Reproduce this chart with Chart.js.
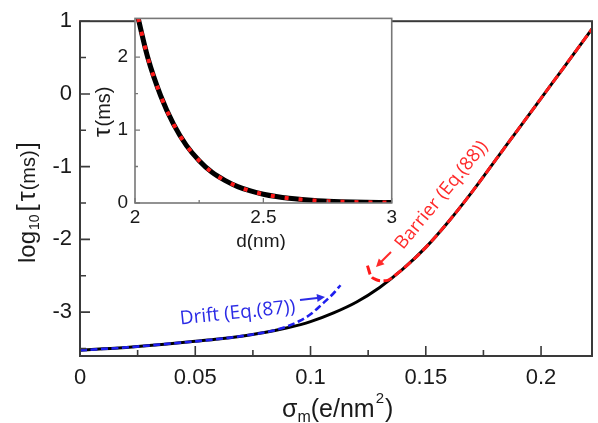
<!DOCTYPE html>
<html><head><meta charset="utf-8">
<script src="https://cdn.jsdelivr.net/npm/chart.js@4.4.1/dist/chart.umd.min.js"></script>
<style>
html,body{margin:0;padding:0;background:#fff;}
#wrap{position:relative;width:598px;height:423px;overflow:hidden;background:#fff;}
#main{position:absolute;left:0;top:0;}
#inset{position:absolute;left:95px;top:0;}
</style></head><body>
<div id="wrap"><canvas id="main" width="598" height="423"></canvas><canvas id="inset" width="305" height="250"></canvas></div>
<script>
// ---------- main panel data ----------
const sigmaFull   = [0,0.01,0.02,0.03,0.04,0.05,0.06,0.07,0.08,0.09,0.10,0.11,0.12,0.13,0.14,0.15,0.16,0.17,0.18,0.19,0.20,0.21,0.2225];
const logTauFull  = [-3.525,-3.505,-3.485,-3.46,-3.43,-3.40,-3.37,-3.33,-3.28,-3.215,-3.13,-3.01,-2.86,-2.66,-2.41,-2.11,-1.75,-1.35,-0.92,-0.49,-0.06,0.37,0.91];
const sigmaDrift  = [0,0.02,0.04,0.06,0.07,0.08,0.085,0.09,0.095,0.10,0.105,0.11,0.113];
const logTauDrift = [-3.525,-3.485,-3.43,-3.37,-3.33,-3.28,-3.245,-3.195,-3.125,-3.03,-2.89,-2.74,-2.63];
const sigmaBarrier  = [0.1247,0.126,0.1282,0.1312,0.1338,0.136,0.14,0.15,0.16,0.17,0.18,0.19,0.20,0.21,0.2225];
const logTauBarrier = [-2.36,-2.49,-2.55,-2.57,-2.56,-2.51,-2.41,-2.11,-1.75,-1.35,-0.92,-0.49,-0.06,0.37,0.91];
const xTicks = [0,0.05,0.1,0.15,0.2];
const xTickLabels = ['0','0.05','0.1','0.15','0.2'];
const xMinor = [0.025,0.075,0.125,0.175];
const yTicks = [-3,-2,-1,0,1];
const yTickLabels = ['-3','-2','-1','0','1'];
const yMinor = [-3.5,-2.5,-1.5,-0.5,0.5];

// ---------- inset data ----------
const insetD      = [2.00,2.05,2.10,2.15,2.20,2.25,2.30,2.35,2.40,2.45,2.50,2.55,2.60,2.65,2.70,2.75,2.80,2.85,2.90,2.95,3.00];
const insetTau    = [2.72,1.99,1.47,1.08,0.79,0.58,0.42,0.31,0.225,0.165,0.12,0.088,0.064,0.047,0.034,0.025,0.018,0.013,0.0097,0.0071,0.0052];
const insetTauFit = [2.72,1.99,1.47,1.08,0.79,0.58,0.42,0.31,0.225,0.165,0.12,0.088,0.064,0.047,0.034,0.025,0.018,0.013,0.0097,0.0071,0.0052];
const insetXTicks = [2,2.5,3];
const insetXTickLabels = ['2','2.5','3'];
const insetXMinor = [2.25,2.75];
const insetYTicks = [0,1,2];
const insetYTickLabels = ['0','1','2'];
const insetYMinor = [0.5,1.5];

const FONT = '"Liberation Sans", Arial, Helvetica, sans-serif';
const ANN = '"Open Sans", "Noto Sans", sans-serif';
const pts = (xs, ys) => xs.map((x, i) => ({x, y: ys[i]}));

function frameTicks(id, o) {
  return {
    id,
    afterDraw(chart) {
      const {ctx, chartArea: a, scales: {x, y}} = chart;
      ctx.save();
      ctx.strokeStyle = o.color;
      ctx.lineWidth = o.tickWidth;
      ctx.beginPath();
      o.xMajor.forEach(v => { const p = x.getPixelForValue(v); ctx.moveTo(p, a.bottom); ctx.lineTo(p, a.bottom - o.major); });
      o.xMinor.forEach(v => { const p = x.getPixelForValue(v); ctx.moveTo(p, a.bottom); ctx.lineTo(p, a.bottom - o.minor); });
      o.yMajor.forEach(v => { const p = y.getPixelForValue(v); ctx.moveTo(a.left, p); ctx.lineTo(a.left + o.major, p); });
      o.yMinor.forEach(v => { const p = y.getPixelForValue(v); ctx.moveTo(a.left, p); ctx.lineTo(a.left + o.minor, p); });
      ctx.stroke();
      ctx.lineWidth = o.frameWidth;
      ctx.strokeRect(a.left, a.top, a.right - a.left, a.bottom - a.top);
      ctx.restore();
    }
  };
}

function arrow(ctx, x1, y1, x2, y2, color) {
  const ang = Math.atan2(y2 - y1, x2 - x1), L = 8, W = 4;
  ctx.save();
  ctx.strokeStyle = color; ctx.fillStyle = color; ctx.lineWidth = 2;
  ctx.beginPath(); ctx.moveTo(x1, y1);
  ctx.lineTo(x2 - L * 0.7 * Math.cos(ang), y2 - L * 0.7 * Math.sin(ang)); ctx.stroke();
  ctx.beginPath();
  ctx.moveTo(x2, y2);
  ctx.lineTo(x2 - L * Math.cos(ang) + W * Math.sin(ang), y2 - L * Math.sin(ang) - W * Math.cos(ang));
  ctx.lineTo(x2 - L * Math.cos(ang) - W * Math.sin(ang), y2 - L * Math.sin(ang) + W * Math.cos(ang));
  ctx.closePath(); ctx.fill();
  ctx.restore();
}

function seq(ctx, parts, startX) {
  let cx = startX;
  parts.forEach(([t, size, dy, gap]) => {
    ctx.font = size + 'px ' + FONT;
    ctx.fillText(t, cx, dy);
    cx += ctx.measureText(t).width + (gap || 0);
  });
}

const mainLabels = {
  id: 'mainLabels',
  afterDraw(chart) {
    const ctx = chart.ctx;
    ctx.save();
    ctx.fillStyle = '#1a1a1a';
    ctx.textBaseline = 'alphabetic';
    // y title
    ctx.save();
    ctx.translate(35, 263); ctx.rotate(-Math.PI / 2);
    seq(ctx, [['log', 24, 0, 1], ['10', 14, 4, 3], ['[', 26, 0, 3], ['τ', 25, 0, 1], ['(ms)', 20, 0, 1], [']', 26, 0, 0]], 0);
    ctx.restore();
    // x title
    ctx.save();
    ctx.translate(0, 417);
    seq(ctx, [['σ', 25, 0, 0], ['m', 16, 5, 0], ['(e/nm', 25, 0, 1], ['2', 15, -14, 1], [')', 25, 0, 0]], 282);
    ctx.restore();
    // Drift annotation
    const blue = '#2b2be6';
    ctx.save();
    ctx.translate(180, 319); ctx.rotate(-5.9 * Math.PI / 180);
    ctx.font = '19px ' + ANN; ctx.fillStyle = blue; ctx.textBaseline = 'middle';
    ctx.fillText('Drift (Eq.(87))', 0, 0);
    ctx.restore();
    arrow(ctx, 300, 300, 325, 297, blue);
    // Barrier annotation
    const red = '#ff2a2a';
    ctx.save();
    ctx.translate(399, 247); ctx.rotate(-50.5 * Math.PI / 180);
    ctx.font = '18.5px ' + ANN; ctx.fillStyle = red; ctx.textBaseline = 'middle';
    ctx.fillText('Barrier (Eq.(88))', 0, 0);
    ctx.restore();
    arrow(ctx, 391, 252, 376, 267, red);
    ctx.restore();
  }
};

new Chart(document.getElementById('main'), {
  type: 'line',
  data: {
    datasets: [
      {data: pts(sigmaFull, logTauFull), borderColor: '#000', borderWidth: 3, pointRadius: 0, cubicInterpolationMode: 'monotone', order: 3, clip: 0},
      {data: pts(sigmaDrift, logTauDrift), borderColor: '#1f1fee', borderWidth: 2.6, borderDash: [7, 3.5], pointRadius: 0, cubicInterpolationMode: 'monotone', order: 1, clip: 0},
      {data: pts(sigmaBarrier, logTauBarrier), borderColor: '#ff1a1a', borderWidth: 3, borderDash: [9, 3.5], pointRadius: 0, cubicInterpolationMode: 'monotone', order: 2, clip: 0}
    ]
  },
  options: {
    responsive: false, animation: false, devicePixelRatio: 1,
    layout: {padding: {top: 12, right: 6, left: 0, bottom: 0}},
    plugins: {legend: {display: false}, tooltip: {enabled: false}},
    scales: {
      x: {
        type: 'linear', min: 0, max: 0.2221,
        grid: {display: false, drawTicks: false}, border: {display: false},
        afterBuildTicks: s => { s.ticks = xTicks.map(v => ({value: v})); },
        afterFit: s => { s.height = 67; },
        ticks: {font: {family: FONT, size: 22}, color: '#1a1a1a', padding: 9, maxRotation: 0, autoSkip: false,
                callback: (v, i) => xTickLabels[i]}
      },
      y: {
        type: 'linear', min: -3.603, max: 1,
        grid: {display: false, drawTicks: false}, border: {display: false},
        afterBuildTicks: s => { s.ticks = yTicks.map(v => ({value: v})); },
        afterFit: s => { s.width = 80; },
        ticks: {font: {family: FONT, size: 22}, color: '#1a1a1a', padding: 8, autoSkip: false,
                callback: (v, i) => yTickLabels[i]}
      }
    }
  },
  plugins: [frameTicks('mainFrame', {color: '#3a3a3a', tickWidth: 1.6, frameWidth: 2, major: 10, minor: 6,
    xMajor: xTicks, xMinor: xMinor, yMajor: yTicks, yMinor: yMinor}), mainLabels]
});

const insetBg = {
  id: 'insetBg',
  beforeDatasetsDraw(chart) {
    const {ctx, chartArea: a} = chart;
    ctx.save(); ctx.fillStyle = '#fff'; ctx.fillRect(a.left, a.top, a.right - a.left, a.bottom - a.top); ctx.restore();
  }
};
const insetLabels = {
  id: 'insetLabels',
  afterDraw(chart) {
    const ctx = chart.ctx;
    ctx.save();
    ctx.fillStyle = '#1a1a1a';
    ctx.textBaseline = 'alphabetic';
    ctx.save();
    ctx.translate(15, 137); ctx.rotate(-Math.PI / 2);
    seq(ctx, [['τ', 24, 0, 1], ['(ms)', 20, 0, 0]], 0);
    ctx.restore();
    ctx.font = '19px ' + FONT; ctx.textAlign = 'center';
    ctx.fillText('d(nm)', 166, 247);
    ctx.restore();
  }
};

new Chart(document.getElementById('inset'), {
  type: 'line',
  data: {
    datasets: [
      {data: pts(insetD, insetTau), borderColor: '#000', borderWidth: 5, pointRadius: 0, cubicInterpolationMode: 'monotone', order: 2, clip: 0},
      {data: pts(insetD, insetTauFit), borderColor: '#ff1a1a', borderWidth: 4, borderDash: [4, 10], pointRadius: 0, cubicInterpolationMode: 'monotone', order: 1, clip: 0}
    ]
  },
  options: {
    responsive: false, animation: false, devicePixelRatio: 1,
    layout: {padding: {top: 15, right: 7, left: 0, bottom: 0}},
    plugins: {legend: {display: false}, tooltip: {enabled: false}},
    scales: {
      x: {
        type: 'linear', min: 2, max: 3,
        grid: {display: false, drawTicks: false}, border: {display: false},
        afterBuildTicks: s => { s.ticks = insetXTicks.map(v => ({value: v})); },
        afterFit: s => { s.height = 47; },
        ticks: {font: {family: FONT, size: 19}, color: '#1a1a1a', padding: 3, maxRotation: 0, autoSkip: false,
                callback: (v, i) => insetXTickLabels[i]}
      },
      y: {
        type: 'linear', min: 0, max: 2.53,
        grid: {display: false, drawTicks: false}, border: {display: false},
        afterBuildTicks: s => { s.ticks = insetYTicks.map(v => ({value: v})); },
        afterFit: s => { s.width = 40; },
        ticks: {font: {family: FONT, size: 19}, color: '#1a1a1a', padding: 7, autoSkip: false,
                callback: (v, i) => insetYTickLabels[i]}
      }
    }
  },
  plugins: [insetBg, frameTicks('insetFrame', {color: '#777', tickWidth: 1.3, frameWidth: 1.6, major: 5, minor: 3,
    xMajor: insetXTicks, xMinor: insetXMinor, yMajor: insetYTicks, yMinor: insetYMinor}), insetLabels]
});
</script>
</body></html>
